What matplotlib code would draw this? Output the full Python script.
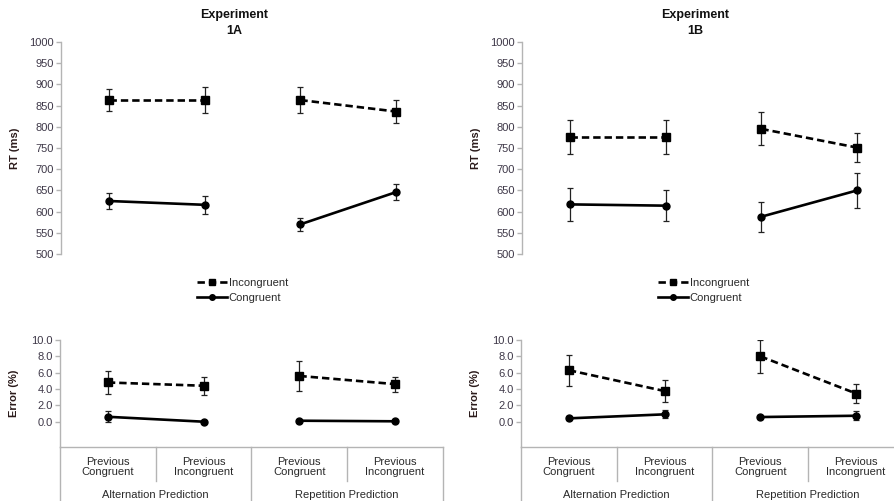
import matplotlib
matplotlib.use("Agg")
import matplotlib.pyplot as plt
from matplotlib.lines import Line2D
import matplotlib.transforms as mtransforms

plt.rcParams['font.family'] = ['Liberation Sans', 'DejaVu Sans']

# ---- data -------------------------------------------------------------
conditions = ["Previous\nCongruent", "Previous\nIncongruent",
              "Previous\nCongruent", "Previous\nIncongruent"]
groups = ["Alternation Prediction", "Repetition Prediction"]
experiments = ["Experiment\n1A", "Experiment\n1B"]

# Reaction times (ms)
rt_incong_1a = [863, 863, 863, 836]
rt_incong_1a_err = [26, 31, 31, 28]
rt_cong_1a = [625, 616, 570, 646]
rt_cong_1a_err = [18, 21, 15, 19]

rt_incong_1b = [775, 775, 795, 751]
rt_incong_1b_err = [40, 40, 39, 35]
rt_cong_1b = [617, 614, 588, 650]
rt_cong_1b_err = [38, 37, 35, 41]

# Error rates (%)
er_incong_1a = [4.8, 4.4, 5.6, 4.6]
er_incong_1a_err = [1.37, 1.1, 1.8, 0.92]
er_cong_1a = [0.6, 0.0, 0.12, 0.05]
er_cong_1a_err = [0.67, 0.05, 0.08, 0.05]

er_incong_1b = [6.3, 3.75, 8.0, 3.45]
er_incong_1b_err = [1.88, 1.37, 2.0, 1.22]
er_cong_1b = [0.41, 0.9, 0.57, 0.73]
er_cong_1b_err = [0.25, 0.5, 0.3, 0.55]

rt_ticks = list(range(500, 1001, 50))
er_ticks = [0.0, 2.0, 4.0, 6.0, 8.0, 10.0]

# ---- styling ------------------------------------------------------------
W, H = 895, 501
TICK_C = '#3e3848'
SPINE_C = '#b4b4b4'
TXT_C = '#2a2a2a'
FS = 8
DASH = (0, (2.8, 1.5))
LW = 1.9

fig = plt.figure(figsize=(W / 100, H / 100), dpi=100)


def frac_rect(left_px, top_px, right_px, bottom_px):
    return [left_px / W, 1 - bottom_px / H,
            (right_px - left_px) / W, (bottom_px - top_px) / H]


xpos = [0.5, 1.5, 2.5, 3.5]


def draw_series(ax, inc, inc_err, con, con_err):
    # each prediction group is drawn as its own connected pair
    for sl in (slice(0, 2), slice(2, 4)):
        ax.errorbar(xpos[sl], inc[sl], yerr=inc_err[sl], color='black',
                    ls=DASH, lw=LW, marker='s', ms=5.5, ecolor='#222222',
                    elinewidth=0.9, capsize=2.3, capthick=0.9, zorder=3)
        ax.errorbar(xpos[sl], con[sl], yerr=con_err[sl], color='black',
                    ls='-', lw=LW, marker='o', ms=5, ecolor='#222222',
                    elinewidth=0.9, capsize=2.3, capthick=0.9, zorder=3)


def style_y(ax):
    for s in ['top', 'right', 'bottom']:
        ax.spines[s].set_visible(False)
    ax.spines['left'].set_color(SPINE_C)
    ax.spines['left'].set_linewidth(1.0)
    ax.tick_params(axis='y', direction='out', length=3.5, width=1.0,
                   color=SPINE_C, labelsize=FS, labelcolor=TICK_C, pad=1.5)
    ax.tick_params(axis='x', length=0, labelbottom=False)
    ax.set_xlim(0, 4)


panels = [
    dict(left=60, title=experiments[0],
         rt=(rt_incong_1a, rt_incong_1a_err, rt_cong_1a, rt_cong_1a_err),
         er=(er_incong_1a, er_incong_1a_err, er_cong_1a, er_cong_1a_err),
         leg_x=197),
    dict(left=521, title=experiments[1],
         rt=(rt_incong_1b, rt_incong_1b_err, rt_cong_1b, rt_cong_1b_err),
         er=(er_incong_1b, er_incong_1b_err, er_cong_1b, er_cong_1b_err),
         leg_x=658),
]

AX_W = 383

for p in panels:
    L = p['left']
    # reaction time panel
    ax_rt = fig.add_axes(frac_rect(L + 1, 42, L + 1 + AX_W, 254))
    draw_series(ax_rt, *p['rt'])
    ax_rt.set_ylim(500, 1000)
    ax_rt.set_yticks(rt_ticks)
    style_y(ax_rt)
    ax_rt.set_ylabel("RT (ms)", fontsize=FS, fontweight='bold', color='#2a1a1a')
    ax_rt.yaxis.set_label_coords(-0.108, 0.5)
    ax_rt.text(0.453, 1.0 + 19 / 212, p['title'], transform=ax_rt.transAxes,
               ha='center', va='center', fontsize=9, fontweight='bold',
               color='#111111', linespacing=1.35)

    # error rate panel
    ax_er = fig.add_axes(frac_rect(L, 340, L + AX_W, 446.7))
    draw_series(ax_er, *p['er'])
    ax_er.set_ylim(-3.06, 10)
    ax_er.set_yticks(er_ticks)
    ax_er.set_yticklabels([f"{v:.1f}" for v in er_ticks])
    style_y(ax_er)
    ax_er.spines['bottom'].set_visible(True)
    ax_er.spines['bottom'].set_color(SPINE_C)
    ax_er.spines['bottom'].set_linewidth(1.0)
    ax_er.spines['left'].set_bounds(-3.06, 10)
    ax_er.set_ylabel("Error (%)", fontsize=FS, fontweight='bold', color='#2a1a1a')
    ax_er.yaxis.set_label_coords(-0.108, 0.5)

    # category axis below the error panel
    trans = mtransforms.blended_transform_factory(ax_er.transData, ax_er.transAxes)
    for xd, y_end in [(0, -0.6), (1, -0.322), (2, -0.6), (3, -0.322), (4, -0.6)]:
        ax_er.add_line(Line2D([xd, xd], [0, y_end], transform=trans,
                              color=SPINE_C, lw=1.0, clip_on=False))
    for xc, lab in zip(xpos, conditions):
        ax_er.text(xc, -0.19, lab, transform=trans, ha='center', va='center',
                   fontsize=FS, color=TXT_C, linespacing=1.1)
    for gi, g in enumerate(groups):
        ax_er.text(1 + 2 * gi, -0.455, g, transform=trans, ha='center',
                   va='center', fontsize=FS, color=TXT_C)

    # legend between the panels
    handles = [
        Line2D([], [], color='black', ls=DASH, lw=LW, marker='s', ms=4.5),
        Line2D([], [], color='black', ls='-', lw=LW, marker='o', ms=4),
    ]
    fig.legend(handles, ["Incongruent", "Congruent"], loc='upper left',
               bbox_to_anchor=(p['leg_x'] / W, 1 - 278 / H), frameon=False,
               fontsize=FS, handlelength=2.7, handletextpad=0.15,
               labelspacing=0.42, borderpad=0, borderaxespad=0,
               labelcolor=TXT_C)

fig.savefig("out.png", dpi=100)
